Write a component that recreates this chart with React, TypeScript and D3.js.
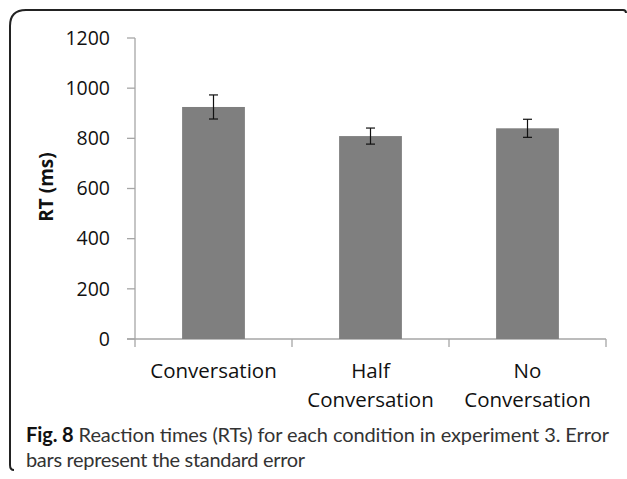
import React from "react";
import * as d3 from "d3";

const categories: string[][] = [["Conversation"], ["Half", "Conversation"], ["No", "Conversation"]];
const means: number[] = [925, 809, 840];
const errors: number[] = [48, 32, 36];
const yTicks: number[] = [0, 200, 400, 600, 800, 1000, 1200];
const yLabel = "RT (ms)";
const captionBold = "Fig. 8";
const captionLine1 = " Reaction times (RTs) for each condition in experiment 3. Error";
const captionLine2 = "bars represent the standard error";

const W = 627;
const H = 479;
const FONT = "'Open Sans', 'Segoe UI', sans-serif";
const CAP_FONT = "Lato, 'Open Sans', sans-serif";

export default function App() {
  const left = 135, right = 606, top = 38, bottom = 339;
  const x = d3.scaleBand<number>().domain(d3.range(categories.length)).range([left, right]).paddingInner(0).paddingOuter(0);
  const y = d3.scaleLinear().domain([0, 1200]).range([bottom, top]);
  const barW = x.bandwidth() * 0.4;
  const axisColor = "#a6a6a6";
  const boundaries = d3.range(categories.length + 1).map((i) => left + i * x.bandwidth());

  return (
    <svg width={W} height={H} style={{ position: "absolute", left: 0, top: 0, display: "block" }}>
      <rect x={0} y={0} width={W} height={H} fill="#fff" />
      {/* frame (top and left with rounded corners) */}
      <path
        d={`M 14 470 Q 10 470 10 465 L 10 26 Q 10 10 26 10 L 623 10 Q 626 10 626 13`}
        fill="none"
        stroke="#222"
        strokeWidth={2}
      />
      {/* y axis */}
      <line x1={left} x2={left} y1={y(1200)} y2={y(0)} stroke={axisColor} strokeWidth={1.3} />
      {yTicks.map((t) => (
        <g key={t}>
          <line x1={left - 8} x2={left} y1={y(t)} y2={y(t)} stroke={axisColor} strokeWidth={1.3} />
          <text x={110} y={y(t)} dy="0.35em" textAnchor="end" fontFamily={FONT} fontSize={19.5} fill="#111">
            {t}
          </text>
        </g>
      ))}
      {/* x axis */}
      <line x1={left - 8} x2={right} y1={y(0)} y2={y(0)} stroke={axisColor} strokeWidth={1.3} />
      {boundaries.map((b, i) => (
        <line key={i} x1={b} x2={b} y1={y(0)} y2={y(0) + 8} stroke={axisColor} strokeWidth={1.3} />
      ))}
      {/* bars */}
      {means.map((m, i) => {
        const cx = (x(i) as number) + x.bandwidth() / 2;
        return (
          <g key={i}>
            <rect x={cx - barW / 2} y={y(m)} width={barW} height={y(0) - y(m)} fill="#7f7f7f" />
            <line x1={cx} x2={cx} y1={y(m + errors[i])} y2={y(m - errors[i])} stroke="#111" strokeWidth={1.2} />
            <line x1={cx - 4.5} x2={cx + 4.5} y1={y(m + errors[i])} y2={y(m + errors[i])} stroke="#111" strokeWidth={1.2} />
            <line x1={cx - 4.5} x2={cx + 4.5} y1={y(m - errors[i])} y2={y(m - errors[i])} stroke="#111" strokeWidth={1.2} />
          </g>
        );
      })}
      {/* x labels */}
      {categories.map((lines, i) => {
        const cx = (x(i) as number) + x.bandwidth() / 2;
        return lines.map((ln, j) => (
          <text key={`${i}-${j}`} x={cx} y={378 + j * 29} textAnchor="middle" fontFamily={FONT} fontSize={20.5} fill="#111">
            {ln}
          </text>
        ));
      })}
      {/* y label */}
      <text
        transform={`translate(53, 187) rotate(-90)`}
        textAnchor="middle"
        fontFamily={FONT}
        fontSize={19}
        fontWeight="bold"
        fill="#111"
      >
        {yLabel}
      </text>
      {/* caption */}
      <text x={26} y={442} fontFamily={CAP_FONT} fontSize={20} fill="#333" textLength={583} lengthAdjust="spacing">
        <tspan fontWeight="bold" fill="#111">{captionBold}</tspan>
        <tspan>{captionLine1}</tspan>
      </text>
      <text x={26} y={467} fontFamily={CAP_FONT} fontSize={20} fill="#333" textLength={279} lengthAdjust="spacing">
        {captionLine2}
      </text>
    </svg>
  );
}
